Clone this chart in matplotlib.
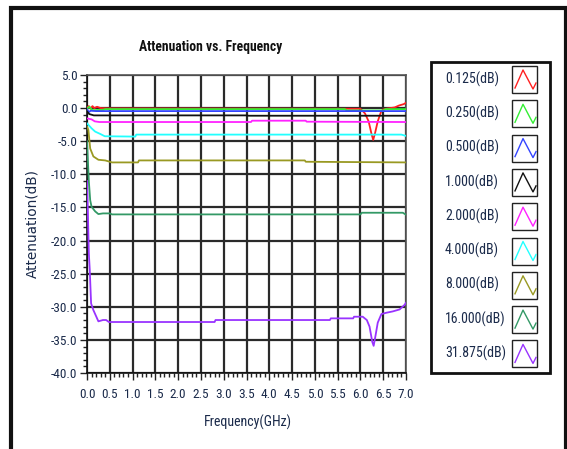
import warnings
warnings.filterwarnings("ignore")
import matplotlib
matplotlib.use("Agg")
import matplotlib.pyplot as plt
from matplotlib.ticker import MultipleLocator, FormatStrFormatter
from matplotlib.patches import Rectangle
from matplotlib.lines import Line2D

# ---------------- data ----------------
labels = ["0.125(dB)", "0.250(dB)", "0.500(dB)", "1.000(dB)", "2.000(dB)",
          "4.000(dB)", "8.000(dB)", "16.000(dB)", "31.875(dB)"]
colors = ["#ff2020", "#33ee33", "#3344ff", "#111111", "#ff22ff",
          "#22ffff", "#999922", "#339966", "#9933ff"]

f_0125 = [0.0, 0.04, 0.08, 0.12, 0.16, 0.22, 0.3, 0.5, 6.0, 6.1, 6.18, 6.24, 6.28, 6.32, 6.38, 6.45, 6.5, 6.6, 6.75, 6.85, 6.95, 7.0]
v_0125 = [0.1, 0.3, -0.1, 0.3, 0.0, 0.2, 0.0, -0.05, -0.1, -0.8, -2.0, -3.8, -4.8, -3.8, -2.0, -0.6, -0.2, -0.05, 0.1, 0.4, 0.6, 0.8]

f_0250 = [0.0, 0.05, 0.12, 0.2, 0.36, 0.4, 5.66, 5.7, 6.5, 6.55, 7.0]
v_0250 = [-0.1, 0.2, -0.3, -0.3, -0.25, -0.15, -0.15, -0.35, -0.35, -0.15, -0.15]

f_0500 = [0.0, 0.04, 0.08, 0.2, 7.0]
v_0500 = [-0.2, -0.6, -0.4, -0.45, -0.45]

f_1000 = [0.0, 0.05, 0.15, 3.5, 3.55, 7.0]
v_1000 = [-0.5, -0.9, -1.1, -1.1, -1.15, -1.15]

f_2000 = [0.0, 0.1, 0.17, 0.27, 3.6, 3.62, 4.8, 4.82, 7.0]
v_2000 = [-1.55, -1.7, -2.0, -2.1, -2.1, -1.9, -1.9, -2.05, -2.1]

f_4000 = [0.0, 0.1, 0.18, 0.29, 0.39, 1.06, 1.08, 6.9, 7.0]
v_4000 = [-2.3, -3.05, -3.55, -3.9, -4.25, -4.3, -4.0, -4.0, -4.2]

f_8000 = [0.0, 0.03, 0.07, 0.14, 0.25, 0.4, 0.55, 1.12, 1.14, 4.78, 4.8, 7.0]
v_8000 = [-2.8, -3.3, -6.1, -7.3, -7.8, -7.9, -8.2, -8.2, -7.9, -7.9, -8.1, -8.2]

f_16000 = [0.0, 0.02, 0.04, 0.07, 0.1, 0.18, 0.25, 0.35, 0.5, 0.55, 6.0, 6.03, 6.93, 7.0]
v_16000 = [-5.0, -8.0, -11.0, -13.9, -14.9, -15.6, -16.0, -15.9, -15.9, -16.05, -16.05, -15.8, -15.8, -16.1]

f_31875 = [0.0, 0.02, 0.04, 0.06, 0.09, 0.14, 0.25, 0.35, 0.42, 0.48, 2.8, 2.82, 5.33, 5.35, 5.84, 5.86,
           6.05, 6.14, 6.2, 6.26, 6.29, 6.33, 6.38, 6.46, 6.57, 6.71, 6.86, 6.97, 7.0]
v_31875 = [-11.0, -16.0, -21.9, -24.4, -29.5, -30.5, -32.2, -32.0, -32.0, -32.3, -32.3, -32.0, -32.0, -31.75, -31.75, -31.5,
           -31.5, -32.0, -33.0, -35.3, -35.9, -34.4, -32.4, -31.1, -30.9, -30.7, -30.4, -29.7, -29.4]

series_f = [f_0125, f_0250, f_0500, f_1000, f_2000, f_4000, f_8000, f_16000, f_31875]
series_v = [v_0125, v_0250, v_0500, v_1000, v_2000, v_4000, v_8000, v_16000, v_31875]

title = "Attenuation vs. Frequency"
xlabel = "Frequency(GHz)"
ylabel = "Attenuation(dB)"

# ---------------- figure ----------------
W, H = 567, 449
fig = plt.figure(figsize=(W / 100, H / 100), dpi=100)
narrow = ["Liberation Sans Narrow", "Roboto Condensed", "DejaVu Sans"]

def px_rect(x0, y0, x1, y1):
    return [x0 / W, 1 - y1 / H, (x1 - x0) / W, (y1 - y0) / H]

ax = fig.add_axes(px_rect(87, 75, 406, 373))
for fx, vy, c in zip(series_f, series_v, colors):
    ax.plot(fx, vy, color=c, lw=1.3, zorder=3)

ax.set_xlim(0, 7.0)
ax.set_ylim(-40, 5)
ax.xaxis.set_major_locator(MultipleLocator(0.5))
ax.xaxis.set_minor_locator(MultipleLocator(0.1))
ax.yaxis.set_major_locator(MultipleLocator(5))
ax.yaxis.set_minor_locator(MultipleLocator(1))
ax.xaxis.set_major_formatter(FormatStrFormatter("%.1f"))
ax.yaxis.set_major_formatter(FormatStrFormatter("%.1f"))
ax.tick_params(which="major", direction="out", length=5, width=1, colors="#222222", labelsize=9.5, pad=2)
ax.tick_params(which="minor", direction="out", length=3, width=1, colors="#222222")
ax.tick_params(axis="x", which="major", pad=6)
for lab in ax.get_xticklabels() + ax.get_yticklabels():
    lab.set_family(narrow)
    lab.set_color("#1a2a4a")
ax.grid(True, which="major", color="#2a2a2a", lw=1.6, zorder=1)
for s in ["top", "right"]:
    ax.spines[s].set_color("#555555")
    ax.spines[s].set_linewidth(1.2)
for s in ["left", "bottom"]:
    ax.spines[s].set_color("#111111")
    ax.spines[s].set_linewidth(1.2)

fig.text(211 / W, 1 - 47 / H, title, ha="center", va="center", fontsize=9.8,
         fontweight="bold", family=narrow, color="#111111")
fig.text(248 / W, 1 - 422 / H, xlabel, ha="center", va="center", fontsize=10,
         family=narrow, color="#1a2a4a")
fig.text(32 / W, 1 - 224 / H, ylabel, ha="center", va="center", fontsize=9.8,
         rotation=90, family="DejaVu Sans", color="#1a2a4a")

# ---------------- overlay: frame and legend (pixel coordinates) ----------------
ov = fig.add_axes([0, 0, 1, 1], zorder=5)
ov.set_xlim(0, W)
ov.set_ylim(H, 0)
ov.axis("off")
ov.patch.set_alpha(0)
ov.add_line(Line2D([10.5, 10.5, 565.5, 565.5], [H + 5, 8, 8, H + 5], color="#111111", lw=3, solid_joinstyle="miter"))

ov.add_patch(Rectangle((431, 62), 119, 311, fill=False, ec="#111111", lw=2))
pitch = 34.3
for i, (lab, c) in enumerate(zip(labels, colors)):
    yc = 79 + i * pitch
    ov.text(445, yc, lab, ha="left", va="center", fontsize=10, family=narrow, color="#1a2a4a")
    bx, by, bw, bh = 512, yc - 13, 25, 27
    ov.add_patch(Rectangle((bx, by), bw, bh, fill=False, ec="#222222", lw=1))
    ov.add_line(Line2D([bx + 3, bx + 11, bx + 21, bx + 24],
                       [by + bh - 5, by + 4, by + bh - 4, by + bh - 10], color=c, lw=1))

fig.savefig("out.png", dpi=100)
